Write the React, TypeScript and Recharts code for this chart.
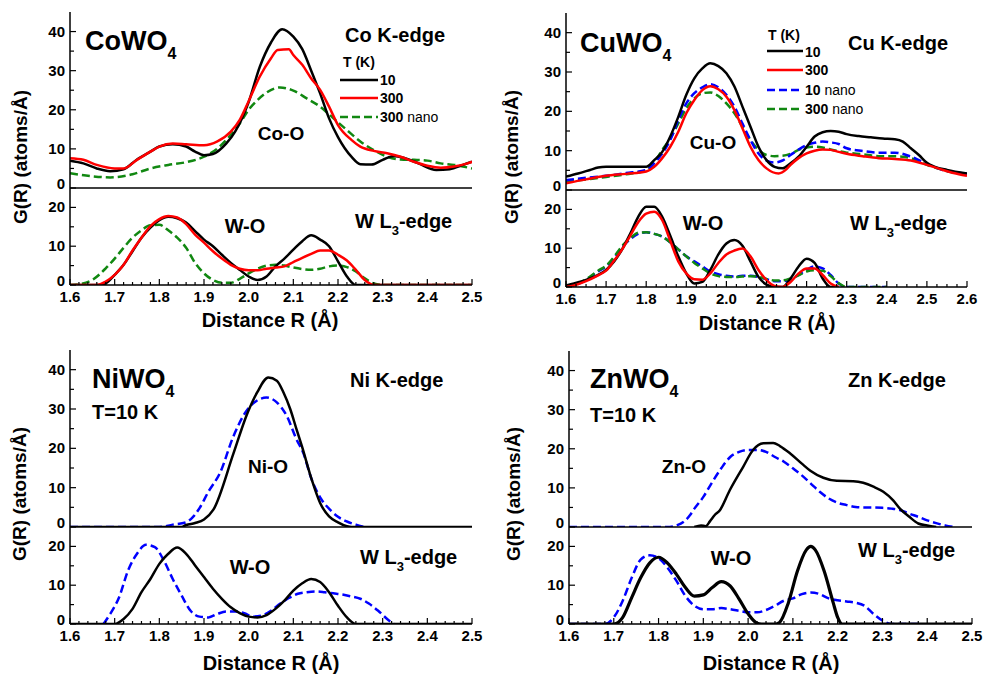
import React from 'react';
import { LineChart, Line, XAxis, YAxis } from 'recharts';

type Pt = [number, number];
type Series = { data: Pt[]; color: string; dash?: string; w?: number };

const FONT = '"Liberation Sans", Arial, Helvetica, sans-serif';
const BLACK = '#000000';
const RED = '#ff0000';
const GREEN = '#118811';
const BLUE = '#0000ff';

// ---------------- CoWO4 ----------------
const coTop10: Pt[] = [[1.6,7.0],[1.63,6.3],[1.66,5.0],[1.69,4.3],[1.72,4.8],[1.75,7.3],[1.78,9.3],[1.8,10.6],[1.83,11.2],[1.86,10.6],[1.88,9.3],[1.9,8.4],[1.92,8.7],[1.95,11.4],[1.97,14.5],[2.0,22.0],[2.025,31.0],[2.05,37.2],[2.075,40.6],[2.1,38.7],[2.12,35.5],[2.14,30.0],[2.16,24.2],[2.18,17.8],[2.2,13.0],[2.23,8.0],[2.25,6.1],[2.275,6.0],[2.3,7.2],[2.325,8.2],[2.35,7.6],[2.38,6.3],[2.42,4.6],[2.45,4.8],[2.48,5.9],[2.5,6.7]];
const coTop300: Pt[] = [[1.6,7.6],[1.63,7.2],[1.66,5.9],[1.7,5.0],[1.72,5.0],[1.75,7.2],[1.78,9.3],[1.8,10.6],[1.83,11.4],[1.86,11.2],[1.9,10.9],[1.93,11.9],[1.96,14.4],[1.98,17.4],[2.0,22.2],[2.025,28.5],[2.05,33.2],[2.065,35.3],[2.09,35.5],[2.1,34.0],[2.12,31.5],[2.14,28.0],[2.16,25.1],[2.18,20.8],[2.2,16.1],[2.23,12.3],[2.25,10.6],[2.28,9.5],[2.31,8.9],[2.34,8.0],[2.37,6.7],[2.4,5.7],[2.43,5.2],[2.46,5.5],[2.49,6.3],[2.5,6.7]];
const coTopNano300: Pt[] = [[1.6,3.8],[1.65,3.0],[1.69,2.7],[1.74,3.5],[1.78,5.0],[1.82,5.9],[1.86,6.6],[1.9,8.0],[1.93,10.1],[1.96,13.6],[1.98,16.5],[2.0,20.0],[2.02,22.5],[2.04,24.4],[2.07,25.7],[2.1,24.9],[2.13,22.9],[2.16,20.8],[2.19,17.8],[2.22,14.8],[2.25,11.9],[2.28,9.7],[2.31,8.0],[2.34,7.3],[2.37,7.2],[2.4,7.0],[2.43,6.3],[2.46,5.9],[2.5,5.0]];
const coBot10: Pt[] = [[1.6,0],[1.67,0],[1.68,0.4],[1.7,2.6],[1.72,5.2],[1.74,8.7],[1.76,12.2],[1.78,14.8],[1.8,16.7],[1.82,17.6],[1.84,17.2],[1.86,16.1],[1.88,13.9],[1.9,11.7],[1.92,10.0],[1.94,7.8],[1.96,5.7],[1.98,3.9],[2.0,2.2],[2.02,1.3],[2.04,2.2],[2.06,4.8],[2.08,6.8],[2.1,9.1],[2.12,11.3],[2.14,12.8],[2.16,11.7],[2.18,10.0],[2.2,6.1],[2.22,2.2],[2.24,0],[2.5,0]];
const coBot300: Pt[] = [[1.6,0],[1.66,0],[1.68,0.9],[1.7,2.6],[1.72,5.2],[1.74,8.9],[1.76,12.2],[1.78,15.2],[1.8,17.0],[1.82,17.8],[1.84,17.4],[1.86,15.7],[1.88,13.0],[1.9,10.9],[1.92,8.7],[1.94,6.8],[1.96,5.2],[1.98,4.2],[2.0,3.8],[2.02,3.8],[2.04,4.2],[2.06,4.5],[2.08,4.8],[2.1,5.9],[2.12,7.0],[2.14,8.0],[2.16,8.9],[2.18,8.9],[2.2,7.8],[2.22,6.3],[2.24,3.9],[2.26,1.3],[2.28,0],[2.5,0]];
const coBotNano300: Pt[] = [[1.6,0],[1.62,0.2],[1.65,1.3],[1.68,4.3],[1.7,6.8],[1.72,9.6],[1.74,12.2],[1.76,14.1],[1.78,15.4],[1.8,15.5],[1.82,14.1],[1.84,12.2],[1.86,9.6],[1.88,5.7],[1.9,3.0],[1.92,1.3],[1.94,0.6],[1.96,0.6],[1.98,1.6],[2.0,3.0],[2.02,4.2],[2.04,5.0],[2.06,5.2],[2.08,5.0],[2.1,4.5],[2.12,4.1],[2.14,3.9],[2.16,4.2],[2.18,4.8],[2.2,5.0],[2.22,4.6],[2.24,3.5],[2.26,1.7],[2.28,0.4],[2.3,0],[2.5,0]];

// ---------------- CuWO4 ----------------
const cuTop10: Pt[] = [[1.6,3.4],[1.63,4.2],[1.66,5.1],[1.68,5.7],[1.7,5.9],[1.8,5.9],[1.82,7.6],[1.84,9.7],[1.86,13.6],[1.88,18.6],[1.9,24.2],[1.92,28.4],[1.94,30.9],[1.96,32.2],[1.98,31.5],[2.0,29.7],[2.02,26.3],[2.04,21.2],[2.06,16.1],[2.08,11.0],[2.1,7.6],[2.12,5.9],[2.14,5.5],[2.16,6.8],[2.18,8.5],[2.2,11.0],[2.22,13.6],[2.24,14.7],[2.26,15.0],[2.28,14.8],[2.3,14.2],[2.33,13.7],[2.36,13.4],[2.39,13.1],[2.42,12.9],[2.44,12.3],[2.46,10.6],[2.48,8.9],[2.5,6.9],[2.52,5.9],[2.55,5.1],[2.6,4.2]];
const cuTop300: Pt[] = [[1.6,1.7],[1.65,2.7],[1.7,3.6],[1.75,4.1],[1.8,4.7],[1.82,5.9],[1.84,8.1],[1.86,11.0],[1.88,14.8],[1.9,19.5],[1.92,22.9],[1.94,25.4],[1.96,26.4],[1.98,25.6],[2.0,23.7],[2.02,20.3],[2.04,15.7],[2.06,11.0],[2.08,7.6],[2.1,5.5],[2.13,4.2],[2.15,5.3],[2.16,6.4],[2.18,8.1],[2.2,9.3],[2.22,10.0],[2.24,10.3],[2.26,10.2],[2.28,9.7],[2.3,9.2],[2.34,8.6],[2.38,8.1],[2.42,7.9],[2.46,7.5],[2.5,6.4],[2.54,5.1],[2.58,4.0],[2.6,3.6]];
const cuTopNano10: Pt[] = [[1.6,2.5],[1.65,3.1],[1.7,3.6],[1.75,4.3],[1.8,5.1],[1.82,6.8],[1.84,9.3],[1.86,12.7],[1.88,17.8],[1.9,22.0],[1.92,24.6],[1.94,26.1],[1.96,26.9],[1.98,26.1],[2.0,24.2],[2.02,21.2],[2.04,16.9],[2.06,12.7],[2.08,9.3],[2.1,7.5],[2.12,7.0],[2.14,7.5],[2.16,8.9],[2.18,10.3],[2.2,11.4],[2.22,12.0],[2.24,12.3],[2.26,12.1],[2.28,11.7],[2.3,10.6],[2.34,9.9],[2.38,9.5],[2.42,9.5],[2.46,8.5],[2.5,6.6],[2.54,5.1],[2.6,4.1]];
const cuTopNano300: Pt[] = [[1.6,2.1],[1.65,2.7],[1.7,3.3],[1.75,4.0],[1.8,5.0],[1.82,7.0],[1.84,10.2],[1.86,13.1],[1.88,16.9],[1.9,20.8],[1.92,23.3],[1.94,24.6],[1.96,24.8],[1.98,23.9],[2.0,22.0],[2.02,19.5],[2.04,16.1],[2.06,12.7],[2.08,10.2],[2.1,8.9],[2.12,8.6],[2.14,8.7],[2.16,9.2],[2.18,10.2],[2.2,10.8],[2.22,11.0],[2.24,10.8],[2.26,10.3],[2.3,9.5],[2.34,9.1],[2.38,8.6],[2.42,8.6],[2.46,8.1],[2.5,6.4],[2.54,5.1],[2.6,3.8]];
const cuBot10: Pt[] = [[1.6,0.4],[1.62,0.9],[1.65,1.8],[1.68,3.1],[1.7,4.4],[1.72,6.6],[1.74,9.7],[1.76,13.7],[1.78,18.1],[1.8,20.7],[1.82,20.7],[1.84,18.1],[1.86,13.2],[1.88,7.9],[1.9,3.5],[1.92,0.9],[1.94,1.3],[1.96,4.4],[1.98,8.4],[2.0,11.2],[2.02,12.1],[2.04,10.6],[2.06,6.6],[2.08,2.6],[2.1,0.6],[2.12,0],[2.14,0],[2.16,2.2],[2.18,5.3],[2.2,7.3],[2.22,6.2],[2.24,2.2],[2.26,0],[2.28,0]];
const cuBot300: Pt[] = [[1.6,0],[1.62,0.4],[1.65,1.5],[1.68,3.0],[1.7,4.2],[1.72,6.8],[1.74,9.7],[1.76,13.2],[1.78,16.7],[1.8,18.9],[1.82,19.4],[1.84,17.2],[1.86,11.9],[1.88,6.6],[1.9,3.5],[1.92,2.0],[1.94,1.9],[1.96,3.5],[1.98,6.2],[2.0,8.4],[2.02,9.4],[2.04,9.9],[2.06,7.9],[2.08,4.4],[2.1,1.8],[2.12,0.3],[2.14,0],[2.16,1.3],[2.18,3.5],[2.2,4.8],[2.22,4.8],[2.24,3.1],[2.26,0.9],[2.28,0]];
const cuBotNano10: Pt[] = [[1.6,0],[1.62,0.4],[1.65,1.8],[1.68,4.0],[1.7,5.3],[1.72,7.5],[1.74,10.3],[1.76,12.3],[1.78,13.7],[1.8,14.1],[1.82,13.7],[1.84,13.0],[1.86,11.5],[1.88,9.7],[1.9,7.9],[1.92,6.6],[1.94,5.3],[1.96,4.0],[1.98,3.3],[2.0,2.9],[2.02,2.7],[2.04,2.9],[2.06,2.9],[2.08,2.6],[2.1,2.0],[2.12,1.5],[2.14,1.5],[2.16,2.0],[2.18,3.1],[2.2,4.4],[2.22,5.3],[2.24,4.8],[2.26,3.1],[2.28,0.9],[2.3,0],[2.4,0]];
const cuBotNano300: Pt[] = [[1.6,0],[1.62,0.5],[1.65,2.0],[1.68,4.2],[1.7,5.5],[1.72,7.8],[1.74,10.6],[1.76,12.5],[1.78,14.0],[1.8,14.1],[1.82,13.7],[1.84,13.0],[1.86,11.5],[1.88,9.7],[1.9,7.9],[1.92,6.2],[1.94,4.8],[1.96,3.5],[1.98,2.8],[2.0,2.6],[2.02,2.6],[2.04,2.7],[2.06,2.8],[2.08,2.6],[2.1,2.1],[2.12,1.7],[2.14,1.7],[2.16,2.2],[2.18,3.0],[2.2,4.0],[2.22,4.3],[2.24,4.2],[2.26,2.8],[2.28,1.0],[2.3,0],[2.4,0]];

// ---------------- NiWO4 ----------------
const niTop10: Pt[] = [[1.6,0],[1.85,0],[1.86,0.5],[1.88,1.0],[1.9,1.9],[1.921,4.4],[1.966,18.7],[1.995,28.3],[2.019,34.2],[2.044,38.0],[2.063,37.2],[2.078,34.2],[2.093,30.0],[2.107,24.9],[2.119,20.6],[2.141,12.1],[2.16,6.1],[2.18,2.7],[2.2,1.2],[2.22,0.2],[2.23,0],[2.5,0]];
const niTopNano10: Pt[] = [[1.6,0],[1.8,0],[1.83,0.6],[1.86,1.2],[1.875,2.5],[1.89,4.8],[1.91,9.0],[1.936,13.8],[1.966,23.1],[1.995,29.5],[2.018,32.1],[2.04,32.9],[2.063,31.7],[2.085,28.3],[2.107,22.3],[2.122,18.9],[2.141,12.1],[2.163,7.0],[2.182,4.4],[2.2,2.6],[2.22,1.4],[2.24,0.6],[2.26,0]];
const niBot10: Pt[] = [[1.6,0],[1.7,0],[1.72,1.3],[1.74,3.9],[1.76,8.2],[1.78,11.6],[1.8,15.5],[1.82,18.1],[1.84,19.7],[1.86,18.1],[1.88,15.1],[1.9,12.1],[1.92,9.1],[1.94,6.5],[1.96,4.3],[1.98,2.8],[2.0,1.9],[2.02,1.7],[2.04,2.3],[2.06,3.9],[2.08,6.0],[2.1,8.6],[2.12,10.5],[2.14,11.6],[2.16,10.8],[2.18,8.2],[2.2,4.7],[2.22,1.7],[2.24,0],[2.5,0]];
const niBotNano10: Pt[] = [[1.675,0],[1.69,2.6],[1.71,6.9],[1.73,13.8],[1.75,18.1],[1.77,20.4],[1.79,19.8],[1.81,16.4],[1.83,11.6],[1.85,7.3],[1.87,3.4],[1.89,1.9],[1.91,1.7],[1.93,2.6],[1.95,3.2],[1.97,3.2],[1.99,2.8],[2.01,1.9],[2.03,2.2],[2.05,3.4],[2.07,5.2],[2.09,6.7],[2.11,7.8],[2.13,8.2],[2.15,8.4],[2.17,8.2],[2.19,7.9],[2.21,7.6],[2.23,7.1],[2.25,6.5],[2.27,5.2],[2.29,3.4],[2.31,1.3],[2.325,0]];

// ---------------- ZnWO4 ----------------
const znTop10: Pt[] = [[1.88,0],[1.895,0.4],[1.905,0.2],[1.915,1.5],[1.925,3.0],[1.937,4.3],[1.959,9.4],[1.989,15.4],[2.011,19.7],[2.034,21.4],[2.056,21.5],[2.071,20.7],[2.094,18.8],[2.12,16.2],[2.139,14.4],[2.168,12.6],[2.198,11.8],[2.235,11.7],[2.257,11.3],[2.28,10.3],[2.302,9.0],[2.324,6.8],[2.339,4.7],[2.36,2.6],[2.38,0.9],[2.4,0.4],[2.42,0]];
const znTopNano10: Pt[] = [[1.6,0],[1.825,0],[1.84,0.4],[1.86,1.7],[1.87,3.0],[1.88,4.7],[1.9,7.7],[1.92,11.5],[1.94,15.0],[1.96,17.9],[1.98,19.2],[2.0,19.7],[2.02,19.7],[2.04,19.2],[2.06,17.9],[2.08,16.7],[2.1,15.0],[2.12,13.2],[2.14,11.1],[2.16,9.0],[2.18,7.3],[2.2,6.2],[2.22,5.6],[2.24,5.1],[2.26,5.0],[2.28,5.0],[2.3,4.9],[2.32,4.7],[2.34,4.3],[2.36,3.4],[2.38,2.6],[2.4,1.7],[2.42,1.0],[2.44,0.4],[2.46,0]];
const znBot10: Pt[] = [[1.6,0],[1.7,0],[1.72,1.7],[1.74,6.8],[1.76,11.9],[1.78,15.7],[1.8,17.2],[1.82,15.7],[1.84,12.8],[1.86,9.4],[1.88,7.2],[1.9,7.5],[1.92,9.4],[1.94,10.9],[1.96,9.8],[1.98,6.4],[2.0,2.6],[2.02,0.2],[2.03,0],[2.06,0],[2.07,0.4],[2.09,5.5],[2.11,13.6],[2.13,19.1],[2.14,20.0],[2.15,19.1],[2.17,13.6],[2.19,5.5],[2.2,1.7],[2.21,0],[2.5,0]];
const znBotNano10: Pt[] = [[1.6,0],[1.68,0],[1.7,1.7],[1.72,6.0],[1.74,11.9],[1.76,16.6],[1.78,17.7],[1.8,17.0],[1.82,14.5],[1.84,11.1],[1.86,7.2],[1.88,4.7],[1.9,3.8],[1.92,3.8],[1.94,4.1],[1.96,3.8],[1.98,3.4],[2.0,3.0],[2.02,3.0],[2.04,3.6],[2.06,4.7],[2.08,6.0],[2.1,6.6],[2.12,7.7],[2.14,8.1],[2.16,7.7],[2.18,6.6],[2.2,6.1],[2.22,5.8],[2.24,5.5],[2.26,4.7],[2.28,2.6],[2.3,0.9],[2.32,0],[2.38,0]];

function steps(a: number, b: number, s: number): number[] {
  const out: number[] = [];
  const n = Math.round((b - a) / s);
  for (let i = 0; i <= n; i++) out.push(+(a + i * s).toFixed(4));
  return out;
}

const AXIS = { stroke: '#000', strokeWidth: 1.5 };
const TK = { stroke: '#000', strokeWidth: 1.2 };

type SubProps = {
  left: number; top: number; width: number; height: number;
  xDomain: [number, number]; xMinor: number;
  yMax: number; yTickMax: number; bottom: boolean; series: Series[];
};

function Sub({ left, top, width, height, xDomain, xMinor, yMax, yTickMax, bottom, series }: SubProps) {
  const ML = 50, MT = 4, MR = 18;
  const MB = bottom ? 30 : 4;
  const xTicks = steps(xDomain[0], xDomain[1], xMinor);
  const yTicks = steps(0, yTickMax, 5);
  const majX = (v: number) => Math.abs(v * 10 - Math.round(v * 10)) < 1e-6;
  const majY = (v: number) => Math.abs(v % 10) < 1e-6;
  const rows = series.map((s) => s.data.map(([r, g]) => ({ r, g })));

  const bottomTick = (p: any) => {
    if (!bottom) return <g />;
    const v = p.payload.value;
    const m = majX(v);
    return (
      <g>
        <line x1={p.x} x2={p.x} y1={p.y} y2={p.y - (m ? 6 : 3)} {...TK} />
        {m && (
          <text x={p.x} y={p.y + 17} textAnchor="middle" fontSize={15} fontWeight="bold" fontFamily={FONT} fill="#000">
            {v.toFixed(1)}
          </text>
        )}
      </g>
    );
  };
  const topTick = (p: any) => {
    if (bottom) return <g />;
    return <line x1={p.x} x2={p.x} y1={p.y} y2={p.y + 4} {...TK} />;
  };
  const leftTick = (p: any) => {
    const v = p.payload.value;
    const m = majY(v);
    const dy = v === 0 ? 1 : 5;
    return (
      <g>
        <line x1={p.x} x2={p.x + (m ? 6 : 4)} y1={p.y} y2={p.y} {...TK} />
        {m && (
          <text x={p.x - 5} y={p.y + dy} textAnchor="end" fontSize={15} fontWeight="bold" fontFamily={FONT} fill="#000">
            {v}
          </text>
        )}
      </g>
    );
  };
  const rightTick = (p: any) => {
    const m = majY(p.payload.value);
    return <line x1={p.x} x2={p.x - (m ? 6 : 4)} y1={p.y} y2={p.y} {...TK} />;
  };

  return (
    <div style={{ position: 'absolute', left: left - ML, top: top - MT }}>
      <LineChart width={width + ML + MR} height={height + MT + MB} margin={{ top: MT, right: MR, bottom: 0, left: 0 }}>
        <XAxis xAxisId="b" type="number" dataKey="r" domain={xDomain} allowDataOverflow ticks={xTicks} interval={0}
          height={MB} tickSize={0} tickMargin={0} tickLine={false} axisLine={AXIS} tick={bottomTick} />
        <XAxis xAxisId="t" orientation="top" type="number" dataKey="r" domain={xDomain} allowDataOverflow ticks={xTicks} interval={0}
          height={0} tickSize={0} tickMargin={0} tickLine={false} axisLine={AXIS} tick={topTick} />
        <YAxis yAxisId="l" type="number" domain={[0, yMax]} allowDataOverflow ticks={yTicks} interval={0}
          width={ML} tickSize={0} tickMargin={0} tickLine={false} axisLine={AXIS} tick={leftTick} />
        <YAxis yAxisId="r" orientation="right" type="number" domain={[0, yMax]} allowDataOverflow ticks={yTicks} interval={0}
          width={0} tickSize={0} tickMargin={0} tickLine={false} axisLine={AXIS} tick={rightTick} />
        <Line xAxisId="t" yAxisId="r" data={rows[0]} dataKey="g" stroke="none" strokeWidth={0} dot={false}
          activeDot={false} isAnimationActive={false} legendType="none" />
        {series.map((s, i) => (
          <Line key={i} xAxisId="b" yAxisId="l" data={rows[i]} dataKey="g" type="monotone" stroke={s.color}
            strokeWidth={s.w ?? 2.5} strokeDasharray={s.dash} dot={false} activeDot={false} isAnimationActive={false} />
        ))}
      </LineChart>
    </div>
  );
}

const T = ({ x, y, size, anchor = 'start', weight = 'bold', children }: any) => (
  <text x={x} y={y} fontSize={size} fontWeight={weight} fontFamily={FONT} textAnchor={anchor} fill="#000">{children}</text>
);

const WL3 = ({ x, y }: { x: number; y: number }) => (
  <T x={x} y={y} size={20}>W L<tspan dy={7} fontSize={13}>3</tspan><tspan dy={-7}>-edge</tspan></T>
);

const Compound = ({ x, y, name }: { x: number; y: number; name: string }) => (
  <T x={x} y={y} size={27}>{name}<tspan dy={9} fontSize={16}>4</tspan></T>
);

const YTitle = ({ x, y }: { x: number; y: number }) => (
  <text transform={`translate(${x},${y}) rotate(-90)`} fontSize={19} fontWeight="bold" fontFamily={FONT} textAnchor="middle" fill="#000">
    G(R) (atoms/Å)
  </text>
);

const LegendLine = ({ x1, x2, y, color, dash }: any) => (
  <line x1={x1} x2={x2} y1={y} y2={y} stroke={color} strokeWidth={2.5} strokeDasharray={dash} />
);

export default function App() {
  const D1 = '8 4';
  return (
    <div style={{ position: 'absolute', left: 0, top: 0, width: 983, height: 676, background: '#fff', overflow: 'hidden' }}>
      {/* CoWO4 */}
      <Sub left={70} top={12} width={402} height={176} xDomain={[1.6, 2.5]} xMinor={0.02} yMax={45} yTickMax={40} bottom={false}
        series={[{ data: coTopNano300, color: GREEN, dash: D1 }, { data: coTop10, color: BLACK }, { data: coTop300, color: RED }]} />
      <Sub left={70} top={188} width={402} height={97} xDomain={[1.6, 2.5]} xMinor={0.02} yMax={25} yTickMax={20} bottom
        series={[{ data: coBotNano300, color: GREEN, dash: D1 }, { data: coBot10, color: BLACK }, { data: coBot300, color: RED }]} />
      {/* CuWO4 */}
      <Sub left={566} top={13} width={401} height={177} xDomain={[1.6, 2.6]} xMinor={0.025} yMax={45} yTickMax={40} bottom={false}
        series={[{ data: cuTopNano300, color: GREEN, dash: D1 }, { data: cuTopNano10, color: BLUE, dash: D1 }, { data: cuTop10, color: BLACK }, { data: cuTop300, color: RED }]} />
      <Sub left={566} top={190} width={401} height={97} xDomain={[1.6, 2.6]} xMinor={0.025} yMax={25} yTickMax={20} bottom
        series={[{ data: cuBotNano10, color: BLUE, dash: D1 }, { data: cuBotNano300, color: GREEN, dash: D1 }, { data: cuBot10, color: BLACK }, { data: cuBot300, color: RED }]} />
      {/* NiWO4 */}
      <Sub left={70} top={350} width={402} height={177} xDomain={[1.6, 2.5]} xMinor={0.02} yMax={45} yTickMax={40} bottom={false}
        series={[{ data: niTopNano10, color: BLUE, dash: D1 }, { data: niTop10, color: BLACK }]} />
      <Sub left={70} top={527} width={402} height={97} xDomain={[1.6, 2.5]} xMinor={0.02} yMax={25} yTickMax={20} bottom
        series={[{ data: niBotNano10, color: BLUE, dash: D1 }, { data: niBot10, color: BLACK }]} />
      {/* ZnWO4 */}
      <Sub left={569} top={351} width={403} height={176} xDomain={[1.6, 2.5]} xMinor={0.02} yMax={45} yTickMax={40} bottom={false}
        series={[{ data: znTopNano10, color: BLUE, dash: D1 }, { data: znTop10, color: BLACK }]} />
      <Sub left={569} top={527} width={403} height={97} xDomain={[1.6, 2.5]} xMinor={0.02} yMax={25} yTickMax={20} bottom
        series={[{ data: znBotNano10, color: BLUE, dash: D1 }, { data: znBot10, color: BLACK, w: 3.2 }]} />

      <svg width={983} height={676} style={{ position: 'absolute', left: 0, top: 0, pointerEvents: 'none' }}>
        {/* Co panel */}
        <Compound x={85} y={50} name="CoWO" />
        <T x={345} y={42} size={20}>Co K-edge</T>
        <T x={343} y={67} size={14}>T (K)</T>
        <LegendLine x1={340} x2={378} y={80} color={BLACK} />
        <LegendLine x1={340} x2={378} y={98} color={RED} />
        <LegendLine x1={340} x2={378} y={117} color={GREEN} dash={D1} />
        <T x={380} y={85} size={14}>10</T>
        <T x={380} y={103} size={14}>300</T>
        <T x={380} y={122} size={14}>300<tspan fontWeight="normal"> nano</tspan></T>
        <T x={281} y={140} size={19} anchor="middle">Co-O</T>
        <T x={245} y={233} size={20} anchor="middle">W-O</T>
        <WL3 x={355} y={228} />
        <T x={270} y={327} size={20} anchor="middle">Distance R (Å)</T>
        <YTitle x={27} y={157} />

        {/* Cu panel */}
        <Compound x={580} y={52} name="CuWO" />
        <T x={848} y={50} size={20}>Cu K-edge</T>
        <T x={768} y={40} size={14}>T (K)</T>
        <LegendLine x1={767} x2={803} y={51} color={BLACK} />
        <LegendLine x1={767} x2={803} y={70} color={RED} />
        <LegendLine x1={767} x2={803} y={90} color={BLUE} dash={D1} />
        <LegendLine x1={767} x2={803} y={109} color={GREEN} dash={D1} />
        <T x={805} y={57} size={14}>10</T>
        <T x={805} y={75} size={14}>300</T>
        <T x={805} y={95} size={14}>10<tspan fontWeight="normal"> nano</tspan></T>
        <T x={805} y={114} size={14}>300<tspan fontWeight="normal"> nano</tspan></T>
        <T x={713} y={149} size={19} anchor="middle">Cu-O</T>
        <T x={703} y={230} size={20} anchor="middle">W-O</T>
        <WL3 x={850} y={230} />
        <T x={767} y={330} size={20} anchor="middle">Distance R (Å)</T>
        <YTitle x={518} y={157} />

        {/* Ni panel */}
        <Compound x={92} y={388} name="NiWO" />
        <T x={92} y={419} size={20}>T=10 K</T>
        <T x={350} y={387} size={20}>Ni K-edge</T>
        <T x={268} y={473} size={19} anchor="middle">Ni-O</T>
        <T x={250} y={574} size={20} anchor="middle">W-O</T>
        <WL3 x={360} y={564} />
        <T x={271} y={670} size={20} anchor="middle">Distance R (Å)</T>
        <YTitle x={26} y={494} />

        {/* Zn panel */}
        <Compound x={590} y={388} name="ZnWO" />
        <T x={590} y={422} size={20}>T=10 K</T>
        <T x={848} y={387} size={20}>Zn K-edge</T>
        <T x={684} y={473} size={19} anchor="middle">Zn-O</T>
        <T x={731} y={565} size={20} anchor="middle">W-O</T>
        <WL3 x={858} y={557} />
        <T x={771} y={670} size={20} anchor="middle">Distance R (Å)</T>
        <YTitle x={520} y={494} />
      </svg>
    </div>
  );
}
